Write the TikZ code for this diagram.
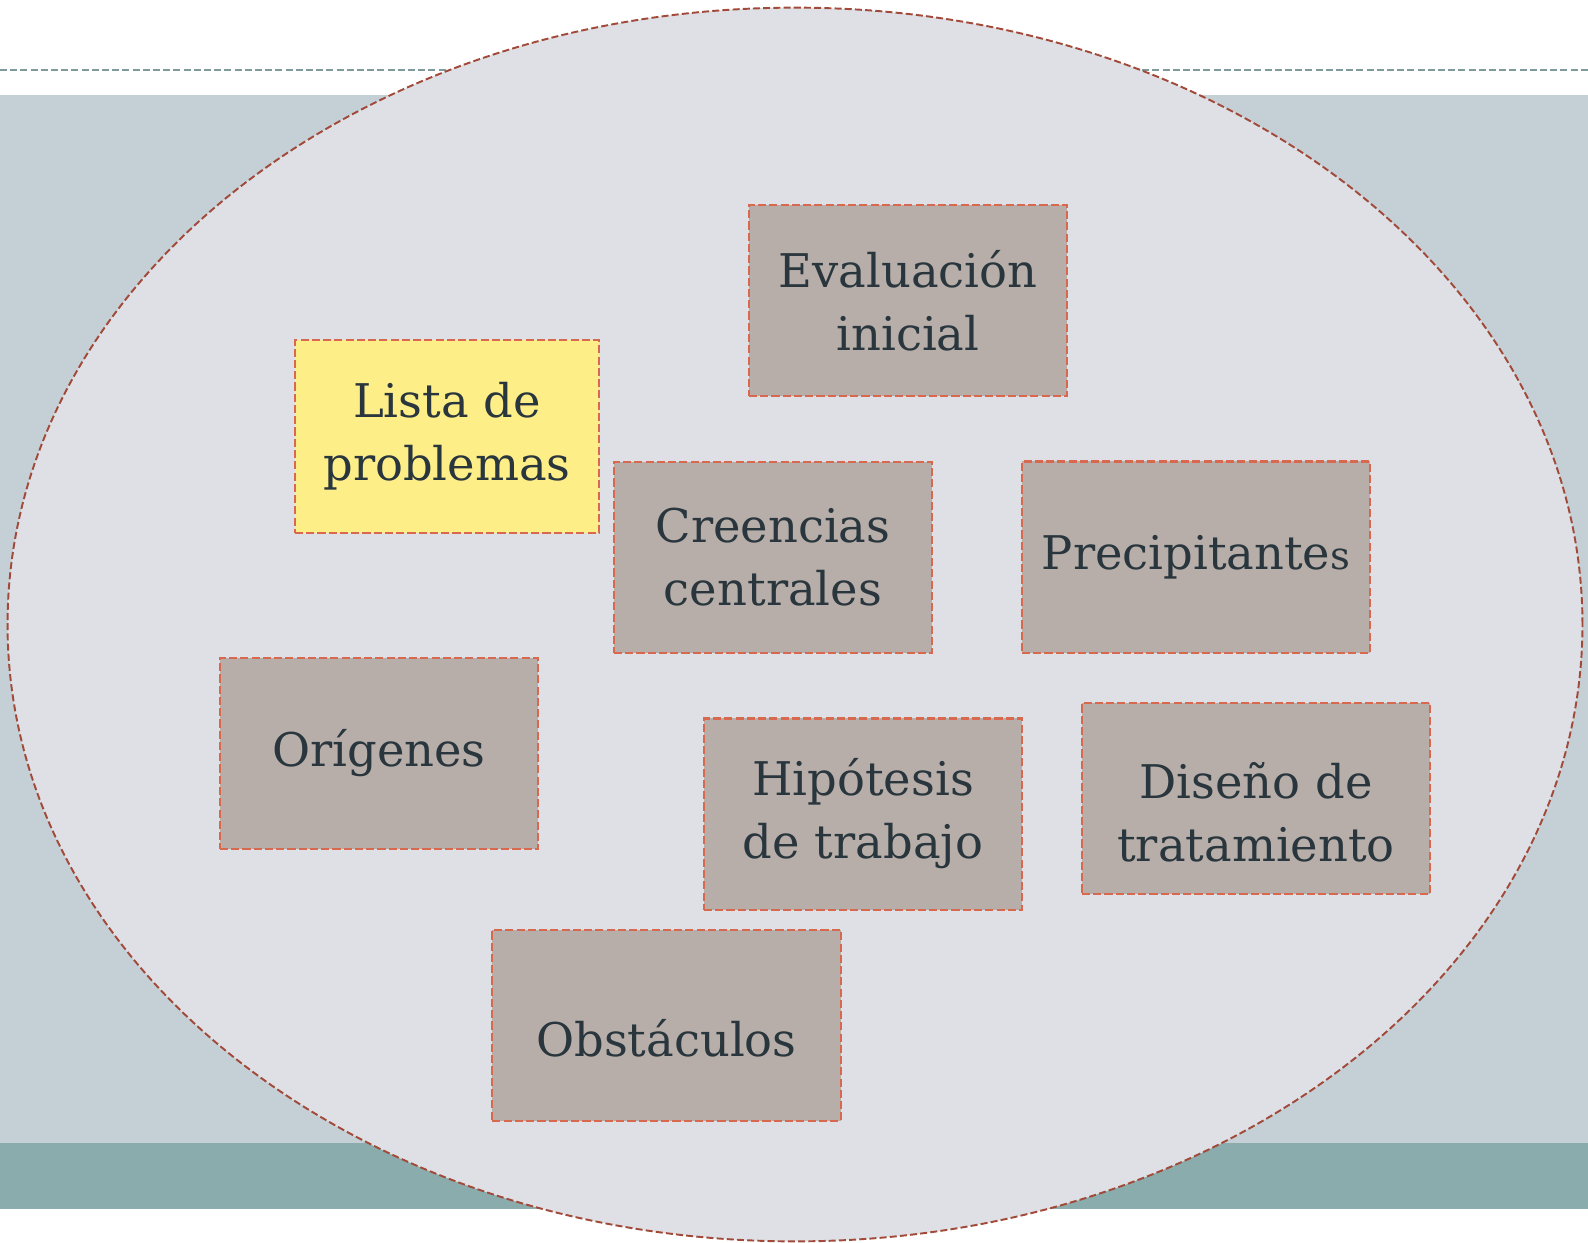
\documentclass[tikz,border=0pt]{standalone}
\usepackage{fontspec}
\setmainfont{DejaVu Serif}
\definecolor{bandgray}{HTML}{C5D0D6}
\definecolor{bandteal}{HTML}{8AACAC}
\definecolor{linegray}{HTML}{7F9A9A}
\definecolor{ovalfill}{HTML}{DFE0E5}
\definecolor{ovaldraw}{HTML}{A24A3A}
\definecolor{cardfill}{HTML}{B8AEA9}
\definecolor{carddraw}{HTML}{D9694E}
\definecolor{cardyellow}{HTML}{FEEE88}
\definecolor{inktext}{HTML}{29363D}
\tikzset{
  card/.style={draw=carddraw, fill=cardfill, line width=0.6pt,
    dash pattern=on 2.3pt off 0.9pt, align=center, text=inktext,
    font=\fontsize{13.2}{17.9}\selectfont, inner sep=0pt,
    minimum width=3.18cm, minimum height=1.91cm},
  widecard/.style={card, minimum width=3.48cm}
}
\begin{document}
\begin{tikzpicture}[x=0.01cm, y=-0.01cm]
				\useasboundingbox (0,0) rectangle (1588,1242);
				% background bands
				\fill[white] (0,0) rectangle (1588,1242);
				\fill[bandgray] (0,95) rectangle (1588,1143);
				\fill[bandteal] (0,1143) rectangle (1588,1209);
				\draw[linegray, line width=0.5pt, dash pattern=on 2pt off 0.9pt] (0,70) -- (1588,70);
				\draw[ovaldraw, fill=ovalfill, line width=0.55pt, dash pattern=on 2pt off 0.9pt]
					(795,624.5) ellipse [x radius=7.87cm, y radius=6.165cm];

				\node[card] (A) at (908,300.5) {Evaluación\\inicial};
				\node[card, fill=cardyellow, minimum width=3.04cm, minimum height=1.93cm] (B) at (447,436.5) {Lista de\\problemas};
				\node[card] (C) at (773,557.5) {Creencias\\centrales};
				\node[widecard] (D) at (1196,557) {Precipitante{\fontsize{11}{12}\selectfont s}};
				\node[card] (E) at (379,753.5) {Orígenes};
				\node[card] (F) at (863,814) {Hipótesis\\de trabajo};
				\node[widecard] (G) at (1256,798.5) {\mbox{}\\Diseño de\\tratamiento};
				\node[widecard] (H) at (666.5,1025.5) {\mbox{}\\Obstáculos};
			\end{tikzpicture}
\end{document}
